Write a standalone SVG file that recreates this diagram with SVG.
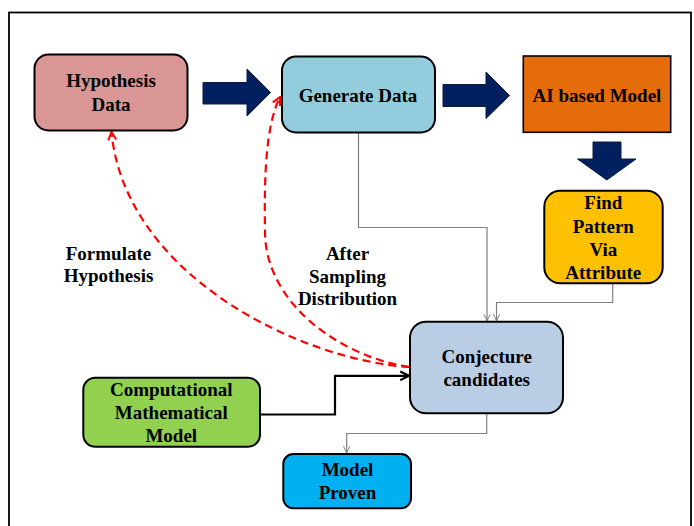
<svg xmlns="http://www.w3.org/2000/svg" width="694" height="526" viewBox="0 0 694 526">
<style>
.t{font-family:"Liberation Serif","Times New Roman",serif;font-weight:bold;font-size:19px;fill:#000;text-anchor:middle}
.box{stroke:#000;stroke-width:2}
.big{fill:#002060;stroke:#0d1a3a;stroke-width:1}
.gray{fill:none;stroke:#7f7f7f;stroke-width:1.2}
.red{fill:none;stroke:#ff0000;stroke-width:2.2;stroke-dasharray:8,5}
</style>
<defs>
<marker id="ag" viewBox="0 0 10 10" refX="9.5" refY="5" markerWidth="8" markerHeight="8" markerUnits="userSpaceOnUse" orient="auto">
<path d="M1,1 L9.5,5 L1,9" fill="none" stroke="#7f7f7f" stroke-width="1.2"/>
</marker>
<marker id="ar" viewBox="0 0 10 10" refX="9" refY="5" markerWidth="10" markerHeight="10" markerUnits="userSpaceOnUse" orient="auto">
<path d="M1,1 L9,5 L1,9" fill="none" stroke="#ff0000" stroke-width="2"/>
</marker>
<marker id="ab" viewBox="0 0 10 10" refX="9" refY="5" markerWidth="11" markerHeight="11" markerUnits="userSpaceOnUse" orient="auto">
<path d="M1,1 L9,5 L1,9" fill="none" stroke="#000" stroke-width="2"/>
</marker>
</defs>
<rect x="0" y="0" width="694" height="526" fill="#fff"/>
<rect x="9" y="12.5" width="682" height="540" fill="none" stroke="#000" stroke-width="1.8"/>

<g id="connectors">
<path class="big" d="M203,82.5 H247 V69 L270.5,92.5 L247,116 V104 H203 Z"/>
<path class="big" d="M443,84.5 H486 V72 L509.5,95.5 L486,118.5 V106.5 H443 Z"/>
<path class="big" d="M593,142 H621 V159 H636 L606.8,180 L577.5,159 H593 Z"/>
<path class="gray" d="M358.5,133 V227.5 H487 V321" marker-end="url(#ag)"/>
<path class="gray" d="M612.7,284 V302.5 H496.5 V321" marker-end="url(#ag)"/>
<path class="gray" d="M486.7,414 V433.5 H346.7 V453" marker-end="url(#ag)"/>
<path d="M261,414.5 H335 V375.8 H409" fill="none" stroke="#000" stroke-width="2.2" marker-end="url(#ab)"/>
<path class="red" d="M409,367 C300,360 125,275 111.5,132" marker-end="url(#ar)"/>
<path class="red" d="M409,367 C335,355 264,300 265,230 C264,175 266,125 280,97" marker-end="url(#ar)"/>
<text class="t" x="108.5" y="259.5">Formulate</text>
<text class="t" x="108.5" y="282">Hypothesis</text>
<text class="t" x="347.5" y="259.5">After</text>
<text class="t" x="347.5" y="282.5">Sampling</text>
<text class="t" x="347.5" y="305">Distribution</text>
</g>

<g id="hypothesis-data">
<rect class="box" x="34.5" y="54.5" width="153" height="76" rx="14" fill="#d99694"/>
<text class="t" x="111" y="87.3">Hypothesis</text>
<text class="t" x="111" y="111">Data</text>
</g>
<g id="generate-data">
<rect class="box" x="282" y="56.5" width="153" height="76" rx="14" fill="#93cddd"/>
<text class="t" x="358" y="101.7">Generate Data</text>
</g>
<g id="ai-model">
<rect x="523.3" y="56" width="147.4" height="76.3" fill="#e46c0a" stroke="#000" stroke-width="1.6"/>
<text class="t" x="597" y="101.7">AI based Model</text>
</g>
<g id="find-pattern">
<rect class="box" x="544.3" y="190.7" width="118.4" height="92.6" rx="16" fill="#ffc000"/>
<text class="t" x="603.3" y="209">Find</text>
<text class="t" x="603.3" y="233.3">Pattern</text>
<text class="t" x="603.3" y="255.7">Via</text>
<text class="t" x="603.3" y="278.5">Attribute</text>
</g>
<g id="conjecture">
<rect class="box" x="410" y="321.7" width="153" height="91.6" rx="16" fill="#b9cde5"/>
<text class="t" x="486.7" y="363">Conjecture</text>
<text class="t" x="486.7" y="386">candidates</text>
</g>
<g id="computational">
<rect class="box" x="83.3" y="377.7" width="176.7" height="69" rx="12" fill="#92d050"/>
<text class="t" x="171.3" y="396">Computational</text>
<text class="t" x="171.3" y="419.3">Mathematical</text>
<text class="t" x="171.3" y="441.7">Model</text>
</g>
<g id="model-proven">
<rect class="box" x="283.3" y="454" width="127.7" height="54.3" rx="10" fill="#00b0f0"/>
<text class="t" x="347.5" y="476">Model</text>
<text class="t" x="347.5" y="499.3">Proven</text>
</g>
</svg>
